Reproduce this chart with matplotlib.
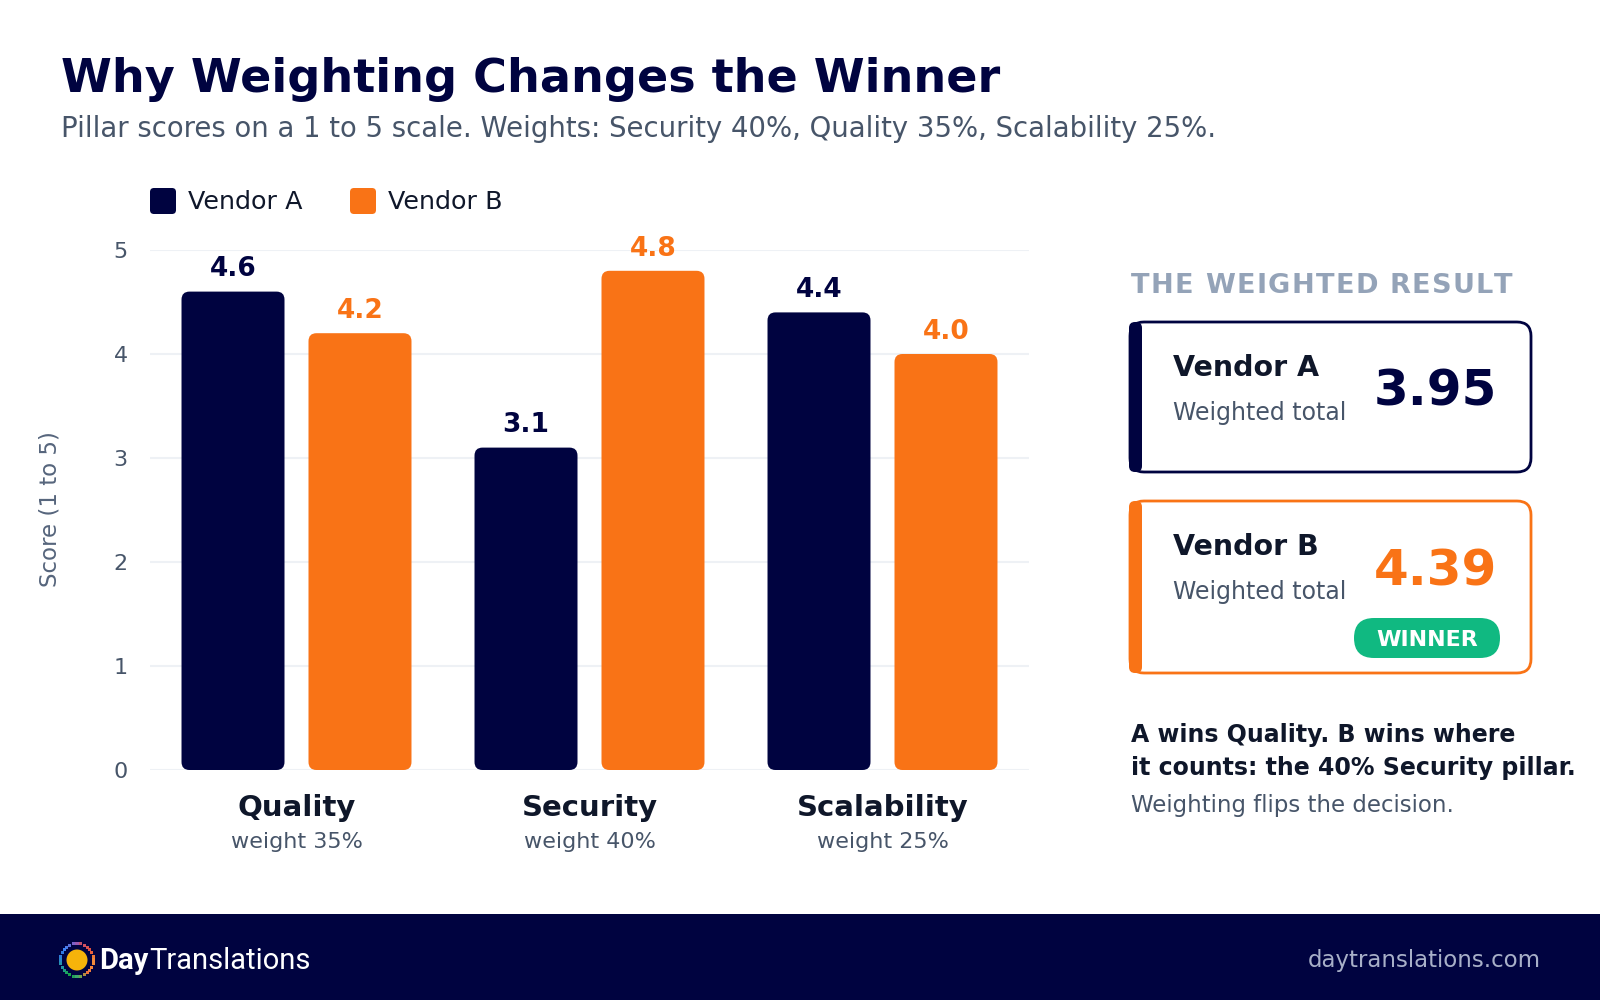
import numpy as np
import matplotlib
matplotlib.use("Agg")
import matplotlib.pyplot as plt
from matplotlib.patches import FancyBboxPatch, Circle, Rectangle
from matplotlib.transforms import blended_transform_factory
from matplotlib import font_manager, ft2font

# data
pillars = ["Quality", "Security", "Scalability"]
weights = [35, 40, 25]
vendors = ["Vendor A", "Vendor B"]
scores_a = [4.6, 3.1, 4.4]
scores_b = [4.2, 4.8, 4.0]
totals = [3.95, 4.39]
yticks = [0, 1, 2, 3, 4, 5]

NAVY = "#000340"
ORANGE = "#F97316"
GREEN = "#10B981"
GRAY = "#475569"
DARK = "#0F172A"
LIGHT = "#94A3B8"

plt.rcParams['font.family'] = ['DejaVu Sans']

fig = plt.figure(figsize=(16, 10), dpi=100)
fig.patch.set_facecolor("white")

# background axes in pixel units (0..1600, 0..1000 from the top)
bg = fig.add_axes([0, 0, 1, 1])
bg.set_xlim(0, 1600)
bg.set_ylim(1000, 0)
bg.set_axis_off()
bg.set_zorder(0)


def spaced_text(x, y, s, size, spacing, **kw):
    # letter-spaced text, one glyph at a time using the font's advances
    fp = font_manager.FontProperties(family="DejaVu Sans", weight=kw.get("fontweight", "normal"))
    font = ft2font.FT2Font(font_manager.findfont(fp))
    font.set_size(size, 100)
    pen = x
    for c in s:
        g = font.load_char(ord(c))
        if c != " ":
            bg.text(pen, y, c, fontsize=size, va="baseline", **kw)
        pen += g.linearHoriAdvance / 65536.0 + spacing


# main bar chart
ax = fig.add_axes([150/1600, 1 - 770/1000, (1029 - 150)/1600, (770 - 250)/1000])
ax.set_zorder(1)
ax.set_facecolor("none")
ax.set_xlim(-0.5, len(pillars) - 0.5)
ax.set_ylim(0, 5)
ax.set_yticks(yticks)
ax.set_yticklabels([str(t) for t in yticks])
ax.set_xticks([])
ax.tick_params(axis="y", length=0, pad=16, labelsize=16, labelcolor=GRAY)
for s in ax.spines.values():
    s.set_visible(False)
ax.yaxis.grid(True, color="#EEF1F5", linewidth=1.5)
ax.set_axisbelow(True)

# rounding that looks circular on screen
px_x = (1029 - 150) / len(pillars)
px_y = (770 - 250) / 5.0
radius = 8 / px_x
aspect = px_x / px_y

bw = 0.3515
off = 0.2167
x = np.arange(len(pillars))
for vals, col, sh in [(scores_a, NAVY, -off), (scores_b, ORANGE, off)]:
    for xi, v in zip(x, vals):
        p = FancyBboxPatch((xi + sh - bw/2, 0), bw, v,
                           boxstyle="round,pad=0,rounding_size=%f" % radius,
                           mutation_aspect=aspect, facecolor=col, edgecolor="none",
                           zorder=3)
        ax.add_patch(p)
        ax.annotate("%.1f" % v, (xi + sh, v), xytext=(0, 11), textcoords="offset points",
                    ha="center", va="baseline", fontsize=19, fontweight="bold",
                    color=col, annotation_clip=False)

# category labels under the bars
tr = blended_transform_factory(ax.transData, bg.transData)
for xi, name, w in zip(x, pillars, weights):
    bg.text(xi, 816, name, transform=tr, ha="center", va="baseline",
            fontsize=21, fontweight="bold", color=DARK)
    bg.text(xi, 848, "weight %d%%" % w, transform=tr, ha="center", va="baseline",
            fontsize=16, color=GRAY)

bg.text(50, 509, "Score (1 to 5)", rotation=90, ha="center", va="center",
        fontsize=16.5, color="#56657C")

# title block
bg.text(61, 92, "Why Weighting Changes the Winner", fontsize=33.2, fontweight="bold",
        color=NAVY, va="baseline")
bg.text(61, 137, "Pillar scores on a 1 to 5 scale. Weights: Security 40%, Quality 35%, "
        "Scalability 25%.", fontsize=19.8, color=GRAY, va="baseline")

# legend
for lx, col, name in [(150, NAVY, vendors[0]), (350, ORANGE, vendors[1])]:
    bg.add_patch(FancyBboxPatch((lx, 188), 26, 26, boxstyle="round,pad=0,rounding_size=4",
                                facecolor=col, edgecolor="none"))
    bg.text(lx + 38, 209, name, fontsize=18.3, color=DARK, va="baseline")

# right panel
spaced_text(1131, 293, "THE WEIGHTED RESULT", 19.5, 1.3, fontweight="bold", color=LIGHT)

cards = [(322, 472, NAVY, totals[0], NAVY), (501, 673, ORANGE, totals[1], ORANGE)]
for (top, bot, col, tot, numcol), name in zip(cards, vendors):
    bg.add_patch(FancyBboxPatch((1130, top), 1531 - 1130, bot - top,
                                boxstyle="round,pad=0,rounding_size=14",
                                facecolor="white", edgecolor=col, linewidth=2))
    bg.add_patch(FancyBboxPatch((1129, top), 13, bot - top,
                                boxstyle="round,pad=0,rounding_size=6",
                                facecolor=col, edgecolor="none"))
    bg.text(1173, top + 54, name, fontsize=20.5, fontweight="bold", color=DARK,
            va="baseline")
    bg.text(1173, top + 98, "Weighted total", fontsize=17, color=GRAY, va="baseline")
    bg.text(1497, top + 84, "%.2f" % tot, fontsize=36, fontweight="bold", color=numcol,
            ha="right", va="baseline")

# winner pill
win = int(np.argmax(totals))
ptop = cards[win][0]
bg.add_patch(FancyBboxPatch((1354, ptop + 117), 146, 40,
                            boxstyle="round,pad=0,rounding_size=20",
                            facecolor=GREEN, edgecolor="none"))
bg.text(1427, ptop + 137, "WINNER", fontsize=16, fontweight="bold", color="white",
        ha="center", va="center_baseline")

# note
bg.text(1131, 742, "A wins Quality. B wins where", fontsize=17, fontweight="bold",
        color=DARK, va="baseline")
bg.text(1131, 775, "it counts: the 40% Security pillar.", fontsize=17, fontweight="bold",
        color=DARK, va="baseline")
bg.text(1131, 812, "Weighting flips the decision.", fontsize=16.5, color=GRAY,
        va="baseline")

# footer
bg.add_patch(Rectangle((0, 914), 1600, 86, facecolor=NAVY, edgecolor="none"))
ang = np.linspace(0, 2*np.pi, 28, endpoint=False)
ring_cols = ["#F08A3C", "#EE7A3A", "#E8603C", "#E0503F", "#D9534F", "#D05060",
             "#C0506A", "#9A58B0", "#7A62C8", "#5A6FD8", "#4A7AE8", "#3B82F6",
             "#2F7AE0", "#2F7AD8", "#2A88C8", "#2592B0", "#2196A0", "#1C9C80",
             "#1AA260", "#16A34A", "#22A05A", "#3FA86A", "#6AA050", "#B08A40",
             "#E8703A", "#F07A3C", "#F2843C", "#F08A3C"]
bg.scatter(77 + 16.5*np.cos(ang), 960 - 16.5*np.sin(ang), s=5, marker="s",
           c=ring_cols, linewidths=0)
bg.add_patch(Circle((77, 960), 10.5, facecolor="#F6B30A", edgecolor="none"))

t1 = bg.text(99, 969, "Day", fontsize=21, fontweight="bold", color="white",
             va="baseline", family="Roboto")
fig.canvas.draw()
bb = t1.get_window_extent(fig.canvas.get_renderer())
bg.text(bb.x1 + 1, 969, "Translations", fontsize=21, color="white", va="baseline",
        family="Roboto")
bg.text(1541, 967, "daytranslations.com", fontsize=16.5, color="#A8B0C8",
        ha="right", va="baseline")

fig.savefig("out.png", dpi=100, facecolor="white")
